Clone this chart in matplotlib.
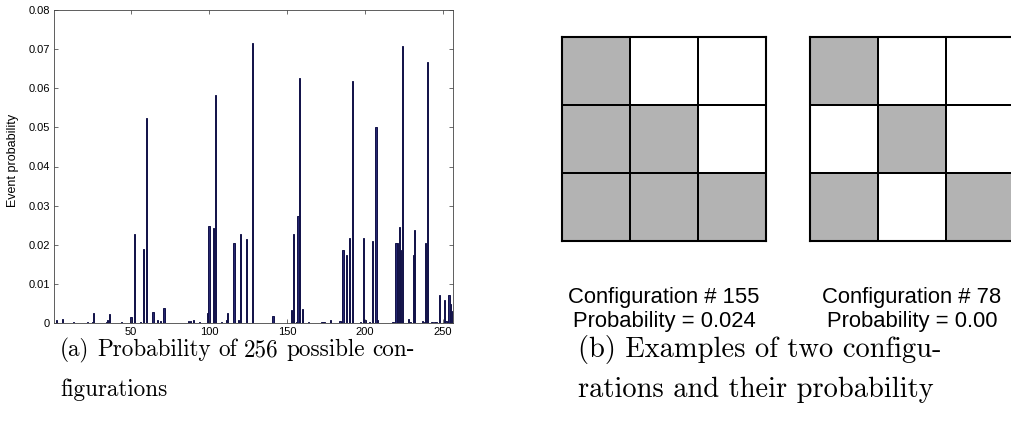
import numpy as np
import matplotlib
matplotlib.use("Agg")
import matplotlib.pyplot as plt
from matplotlib.colors import ListedColormap

# ---- data: panel (a) ----
config_index = [2, 6, 13, 22, 25, 26, 34, 35, 36, 44, 50, 52, 56, 58, 60, 64, 67, 69, 71,
                87, 88, 90, 94, 99, 100, 103, 104, 108, 111, 112, 116, 119, 120, 124, 128,
                141, 153, 154, 156, 157, 158, 160, 164, 172, 173, 174, 178, 184, 185, 186,
                188, 190, 192, 197, 199, 200, 203, 205, 207, 208, 218, 220, 221, 222, 223,
                224, 228, 229, 231, 232, 237, 238, 239, 240, 243, 245, 246, 248, 251, 252,
                254, 255, 256]
event_prob = [0.0007, 0.0011, 0.0003, 0.0003, 0.0003, 0.0026, 0.0003, 0.0007, 0.0022, 0.0003,
              0.0015, 0.0228, 0.0003, 0.0190, 0.0524, 0.0027, 0.0008, 0.0005, 0.0038,
              0.0004, 0.0004, 0.0008, 0.0003, 0.0026, 0.0248, 0.0242, 0.0582, 0.0003, 0.0008,
              0.0026, 0.0205, 0.0008, 0.0228, 0.0214, 0.0716,
              0.0019, 0.0034, 0.0227, 0.0003, 0.0273, 0.0626, 0.0037, 0.0003, 0.0003, 0.0003,
              0.0003, 0.0008, 0.0005, 0.0003, 0.0187,
              0.0174, 0.0216, 0.0618, 0.0003, 0.0216, 0.0008, 0.0003, 0.0209, 0.0500, 0.0008,
              0.0003, 0.0205, 0.0204, 0.0246, 0.0187,
              0.0709, 0.0011, 0.0003, 0.0174, 0.0238, 0.0005, 0.0003, 0.0204, 0.0666, 0.0003,
              0.0003, 0.0003, 0.0072, 0.0060, 0.0005,
              0.0072, 0.0049, 0.0030]
x_ticks = [50, 100, 150, 200, 250]
y_ticks = [0, 0.01, 0.02, 0.03, 0.04, 0.05, 0.06, 0.07, 0.08]
y_ticklabels = ["0", "0.01", "0.02", "0.03", "0.04", "0.05", "0.06", "0.07", "0.08"]

# ---- data: panel (b) ----
config_a = [[1, 0, 0],
            [1, 1, 0],
            [1, 1, 1]]
config_b = [[1, 0, 0],
            [0, 1, 0],
            [1, 0, 1]]
label_a = "Configuration # 155\nProbability = 0.024"
label_b = "Configuration # 78\nProbability = 0.00"

caption_a = ["(a) Probability of 256 possible con-", "figurations"]
caption_b = ["(b) Examples of two configu-", "rations and their probability"]

W, H = 1012, 441
fig = plt.figure(figsize=(W / 100, H / 100), dpi=100)

def frac(x0, y0, x1, y1):
    return [x0 / W, 1 - y1 / H, (x1 - x0) / W, (y1 - y0) / H]

sans = ["Liberation Sans", "DejaVu Sans"]

# panel (a)
ax = fig.add_axes(frac(54, 10, 453, 323))
ax.bar(config_index, event_prob, width=0.85, color="#262670", edgecolor="#121248",
       linewidth=0.7)
ax.set_xlim(0.5, 256.5)
ax.set_ylim(0, 0.08)
ax.set_xticks(x_ticks)
ax.set_xticklabels([str(t) for t in x_ticks], fontsize=8, family=sans)
ax.set_yticks(y_ticks)
ax.set_yticklabels(y_ticklabels, fontsize=8, family=sans)
ax.tick_params(direction="in", length=3, width=0.5, top=True, right=True, pad=3,
               colors="#333333", labelcolor="black")
for s in ax.spines.values():
    s.set_linewidth(0.6)
    s.set_color("#444444")
ax.set_ylabel("Event probability", fontsize=9, family=sans)
ax.yaxis.set_label_coords((19 - 54) / 399, 0.52)

# panel (b)
cmap = ListedColormap(["white", "#b3b3b3"])
for cfg, (x0, x1), lab, cx in [(config_a, (562, 766), label_a, 664),
                               (config_b, (810, 1014), label_b, 912)]:
    g = fig.add_axes(frac(x0, 37, x1, 241))
    g.pcolormesh(np.array(cfg), cmap=cmap, vmin=0, vmax=1, edgecolors="black",
                 linewidth=1.3)
    g.set_xlim(0, 3)
    g.set_ylim(3, 0)
    g.set_xticks([])
    g.set_yticks([])
    for s in g.spines.values():
        s.set_linewidth(1.5)
    fig.text(cx / W, 1 - 309.5 / H, lab, ha="center", va="center", fontsize=15.8,
             family=sans, linespacing=1.2)

# captions (LaTeX-like justified first line)
serif = ["cmr10", "DejaVu Serif"]
renderer = fig.canvas.get_renderer()

def justified(line, x_left, x_right, y, fs):
    words = line.split(" ")
    texts = [fig.text(0, 1 - y / H, w, ha="left", va="center", fontsize=fs,
                      family=serif) for w in words]
    widths = [t.get_window_extent(renderer).width for t in texts]
    gap = (x_right - x_left - sum(widths)) / max(len(words) - 1, 1)
    x = x_left
    for t, w in zip(texts, widths):
        t.set_x(x / W)
        x += w + gap

fs_a = 16.7
fs_b = 20.5
justified(caption_a[0], 60, 415, 350, fs_a)
fig.text(60 / W, 1 - 390 / H, caption_a[1], ha="left", va="center", fontsize=fs_a,
         family=serif)
fig.text(578 / W, 1 - 350 / H, caption_b[0], ha="left", va="center", fontsize=fs_b,
         family=serif)
fig.text(578 / W, 1 - 390 / H, caption_b[1], ha="left", va="center", fontsize=fs_b,
         family=serif)

fig.savefig("out.png", dpi=100)
